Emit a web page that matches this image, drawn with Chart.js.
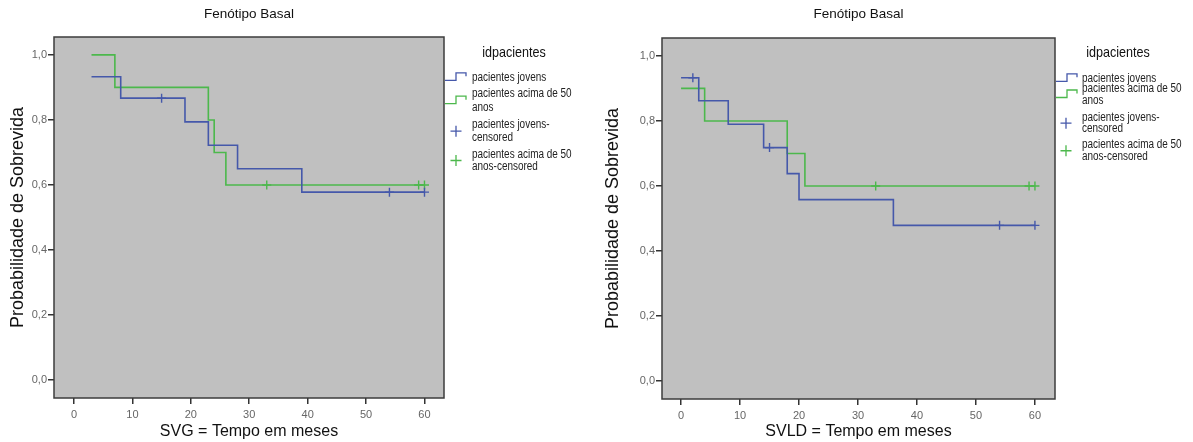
<!DOCTYPE html>
<html><head><meta charset="utf-8">
<script src="https://cdn.jsdelivr.net/npm/chart.js@4.4.1/dist/chart.umd.min.js"></script>
<style>
html,body{margin:0;padding:0;background:#fff;}
#wrap{position:relative;width:1193px;height:442px;overflow:hidden;background:#fff;}
#c1{position:absolute;left:0;top:0;}
#c2{position:absolute;left:597px;top:0;}
</style></head><body>
<div id="wrap"><canvas id="c1" width="597" height="442"></canvas><canvas id="c2" width="596" height="442"></canvas></div>
<script>
// ---- text ----
const chartTitle = 'Fenótipo Basal';
const xTitleSVG = 'SVG = Tempo em meses';
const xTitleSVLD = 'SVLD = Tempo em meses';
const yTitle = 'Probabilidade de Sobrevida';
const legendTitle = 'idpacientes';
const legendLabels = [['pacientes jovens'], ['pacientes acima de 50', 'anos'], ['pacientes jovens-', 'censored'], ['pacientes acima de 50', 'anos-censored']];

// ---- ticks ----
const xTickValues = [0, 10, 20, 30, 40, 50, 60];
const xTickLabels = ['0', '10', '20', '30', '40', '50', '60'];
const yTickValues = [0, 0.2, 0.4, 0.6, 0.8, 1.0];
const yTickLabels = ['0,0', '0,2', '0,4', '0,6', '0,8', '1,0'];

// ---- SVG (left) ----
const svgJovensTime = [3, 8, 19, 23, 28, 39, 60];
const svgJovensSurv = [0.933, 0.867, 0.794, 0.722, 0.650, 0.578, 0.578];
const svgJovensCensTime = [15, 54, 60];
const svgJovensCensSurv = [0.867, 0.578, 0.578];
const svgAcimaTime = [3, 7, 23, 24, 26, 60];
const svgAcimaSurv = [1.0, 0.9, 0.8, 0.7, 0.6, 0.6];
const svgAcimaCensTime = [33, 59, 60];
const svgAcimaCensSurv = [0.6, 0.6, 0.6];

// ---- SVLD (right) ----
const svldJovensTime = [0, 3, 8, 14, 18, 20, 36, 60];
const svldJovensSurv = [0.933, 0.862, 0.790, 0.718, 0.638, 0.558, 0.479, 0.479];
const svldJovensCensTime = [2, 15, 54, 60];
const svldJovensCensSurv = [0.933, 0.718, 0.479, 0.479];
const svldAcimaTime = [0, 4, 18, 21, 60];
const svldAcimaSurv = [0.9, 0.8, 0.7, 0.6, 0.6];
const svldAcimaCensTime = [33, 59, 60];
const svldAcimaCensSurv = [0.6, 0.6, 0.6];

const BLUE = '#4558aa';
const GREEN = '#4cb84c';
const SANS = "'Liberation Sans', Arial, sans-serif";

const pts = (xs, ys) => xs.map((x, i) => ({x: x, y: ys[i]}));

const plotFrame = {
  id: 'plotFrame',
  beforeDraw(chart) {
    const {ctx, chartArea: a} = chart;
    ctx.save();
    ctx.fillStyle = '#c0c0c0';
    ctx.fillRect(a.left, a.top, a.width, a.height);
    ctx.restore();
  },
  afterDatasetsDraw(chart) {
    const {ctx, chartArea: a} = chart;
    ctx.save();
    ctx.strokeStyle = '#3c3c3c';
    ctx.lineWidth = 1.5;
    ctx.strokeRect(a.left, a.top, a.width, a.height);
    ctx.restore();
  }
};

function squishText(ctx, t, x, y, sx) {
  ctx.save();
  ctx.translate(x, y);
  ctx.scale(sx, 1);
  ctx.fillText(t, 0, 0);
  ctx.restore();
}

const kmLegend = {
  id: 'kmLegend',
  afterDraw(chart, args, o) {
    const ctx = chart.ctx, r = chart.chartArea.right;
    ctx.save();
    ctx.fillStyle = '#111';
    ctx.font = '15px ' + SANS;
    ctx.textAlign = 'center';
    ctx.textBaseline = 'middle';
    squishText(ctx, legendTitle, r + o.titleDx, o.titleY, 0.84);
    ctx.font = '12px ' + SANS;
    ctx.textAlign = 'left';
    ctx.fillStyle = '#222';
    legendLabels.forEach((lines, i) => {
      lines.forEach((t, j) => squishText(ctx, t, r + o.textDx, o.rows[i][j], 0.83));
    });
    const colors = [BLUE, GREEN, BLUE, GREEN];
    ctx.lineWidth = 1.3;
    for (let i = 0; i < 4; i++) {
      const rows = o.rows[i];
      const cy = (rows[0] + rows[rows.length - 1]) / 2;
      ctx.strokeStyle = colors[i];
      ctx.beginPath();
      if (i < 2) {
        ctx.moveTo(r + 1, cy + 3);
        ctx.lineTo(r + 12, cy + 3);
        ctx.lineTo(r + 12, cy - 4.5);
        ctx.lineTo(r + 22, cy - 4.5);
        ctx.lineTo(r + 22, cy - 1);
      } else {
        const px = r + o.plusDx;
        ctx.moveTo(px - 5.5, cy); ctx.lineTo(px + 5.5, cy);
        ctx.moveTo(px, cy - 5.5); ctx.lineTo(px, cy + 5.5);
      }
      ctx.stroke();
    }
    ctx.restore();
  }
};

function makeChart(canvasId, cfg) {
  const lineDs = (d, c) => ({data: d, borderColor: c, backgroundColor: c, borderWidth: 1.6, stepped: true, pointRadius: 0, fill: false});
  const censDs = (d, c) => ({data: d, borderColor: c, backgroundColor: c, showLine: false, pointStyle: 'cross', pointRadius: 4.5, pointBorderWidth: 1.4, pointHoverRadius: 4.5});
  return new Chart(document.getElementById(canvasId), {
    type: 'line',
    data: {
      datasets: [
        lineDs(cfg.jovens, BLUE),
        lineDs(cfg.acima, GREEN),
        censDs(cfg.jovensCens, BLUE),
        censDs(cfg.acimaCens, GREEN)
      ]
    },
    options: {
      responsive: false,
      animation: false,
      events: [],
      layout: {padding: {left: 0, right: cfg.padRight, top: 0, bottom: 0}},
      plugins: {
        legend: {display: false},
        tooltip: {enabled: false},
        title: {
          display: true, text: chartTitle, fullSize: false, color: '#111',
          font: {family: SANS, size: 13.5, weight: 'normal', lineHeight: 1.2},
          padding: {top: 6, bottom: cfg.titlePadBottom}
        },
        kmLegend: cfg.legend
      },
      scales: {
        x: {
          type: 'linear', min: cfg.xMin, max: cfg.xMax,
          afterBuildTicks: s => { s.ticks = xTickValues.map(v => ({value: v})); },
          afterFit: s => { s.height = cfg.xAxisH; },
          ticks: {callback: (v, i) => xTickLabels[i], font: {family: SANS, size: 11}, color: '#666', padding: 4, maxRotation: 0, autoSkip: false},
          grid: {drawOnChartArea: false, drawTicks: true, tickLength: 6, tickColor: '#333', lineWidth: 1.5},
          border: {display: false},
          title: {display: true, text: cfg.xTitle, color: '#111', font: {family: SANS, size: 16, lineHeight: 1.2}, padding: {top: 0, bottom: 1}}
        },
        y: {
          type: 'linear', min: -0.055, max: 1.055,
          afterBuildTicks: s => { s.ticks = yTickValues.map(v => ({value: v})); },
          afterFit: s => { s.width = cfg.yAxisW; },
          ticks: {callback: (v, i) => yTickLabels[i], font: {family: SANS, size: 11}, color: '#666', padding: 1},
          grid: {drawOnChartArea: false, drawTicks: true, tickLength: 6, tickColor: '#333', lineWidth: 1.5},
          border: {display: false},
          title: {display: true, text: yTitle, color: '#111', font: {family: SANS, size: 18, lineHeight: 1.2}, padding: {top: cfg.yTitlePad, bottom: 0}}
        }
      }
    },
    plugins: [plotFrame, kmLegend]
  });
}

makeChart('c1', {
  jovens: pts(svgJovensTime, svgJovensSurv),
  acima: pts(svgAcimaTime, svgAcimaSurv),
  jovensCens: pts(svgJovensCensTime, svgJovensCensSurv),
  acimaCens: pts(svgAcimaCensTime, svgAcimaCensSurv),
  xTitle: xTitleSVG,
  xMin: -3.42, xMax: 63.34,
  padRight: 153, yAxisW: 54, xAxisH: 44, titlePadBottom: 14.8, yTitlePad: 7,
  legend: {titleDx: 70, titleY: 53, textDx: 28, plusDx: 12,
    rows: [[77.3], [94, 107.3], [125, 137.3], [154.3, 166.7]]}
});

makeChart('c2', {
  jovens: pts(svldJovensTime, svldJovensSurv),
  acima: pts(svldAcimaTime, svldAcimaSurv),
  jovensCens: pts(svldJovensCensTime, svldJovensCensSurv),
  acimaCens: pts(svldAcimaCensTime, svldAcimaCensSurv),
  xTitle: xTitleSVLD,
  xMin: -3.23, xMax: 63.4,
  padRight: 138, yAxisW: 65, xAxisH: 43, titlePadBottom: 15.8, yTitlePad: 5,
  legend: {titleDx: 63, titleY: 53, textDx: 27, plusDx: 11,
    rows: [[78.3], [88.3, 100.7], [117.3, 129], [145, 156.5]]}
});
</script>
</body></html>
